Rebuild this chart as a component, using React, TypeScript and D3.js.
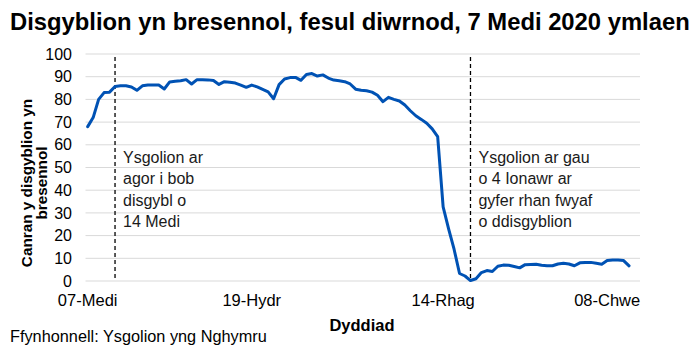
import React from "react";
import * as d3 from "d3";

const title = "Disgyblion yn bresennol, fesul diwrnod, 7 Medi 2020 ymlaen";
const yAxisTitle = ["Canran y disgyblion yn", "bresennol"];
const xAxisTitle = "Dyddiad";
const source = "Ffynhonnell: Ysgolion yng Nghymru";

// school-day index -> attendance %
const attendance: number[] = [
  68, 72, 80, 83, 83.2, 85.7, 86, 86, 85.5, 84,
  86, 86.3, 86.3, 86.3, 84.6, 87.7, 88, 88.2, 88.7, 86.8,
  88.7, 88.7, 88.6, 88.3, 86.6, 87.8, 87.6, 87.2, 86.3, 85.3,
  86.3, 85.5, 84.4, 83.3, 80.3, 86.5, 89, 89.6, 89.7, 88.4,
  91, 91.4, 90.3, 90.8, 89.4, 88.5, 88.2, 87.8, 86.8, 84.5,
  84, 83.8, 83.2, 81.8, 79, 80.9, 80, 79.3, 77.5, 75,
  72.8, 71.2, 69.5, 67, 63.6, 32.7, 23, 14, 3.3, 2.2,
  0.2, 1, 3.7, 4.6, 4.2, 6.5, 7, 6.9, 6.4, 5.8,
  7.2, 7.3, 7.4, 6.9, 6.7, 6.7, 7.5, 7.8, 7.5, 6.7,
  8, 8.2, 8.2, 7.8, 7.4, 9, 9.3, 9.3, 9, 6.7,
];

const tickIndices = [0, 30, 65, 95];
const tickLabels = ["07-Medi", "19-Hydr", "14-Rhag", "08-Chwe"];
const yTicks = [0, 10, 20, 30, 40, 50, 60, 70, 80, 90, 100];

const eventIndices = [5, 70];
const eventTexts = [
  ["Ysgolion ar", "agor i bob", "disgybl o", "14 Medi"],
  ["Ysgolion ar gau", "o 4 Ionawr ar", "gyfer rhan fwyaf", "o ddisgyblion"],
];

const FONT = "'Liberation Sans', Arial, sans-serif";

export default function App() {
  const W = 698;
  const H = 360;
  const x = d3.scaleLinear().domain([-0.4, 101]).range([85.5, 640]);
  const y = d3.scaleLinear().domain([0, 100]).range([281, 54]);
  const line = d3
    .line<number>()
    .x((_, i) => x(i))
    .y((d) => y(d))
    .curve(d3.curveLinear);

  return (
    <svg
      width={W}
      height={H}
      style={{ position: "absolute", left: 0, top: 0, background: "#fff" }}
      fontFamily={FONT}
    >
      <rect x={0} y={0} width={W} height={H} fill="#fff" />
      <text x={10} y={30} fontSize={23.8} fontWeight="bold" fill="#000">
        {title}
      </text>
      {yTicks.map((t) => (
        <g key={t}>
          <line x1={x.range()[0]} x2={x.range()[1]} y1={y(t)} y2={y(t)} stroke="#d9d9d9" strokeWidth={1} />
          <text x={72} y={y(t)} dy="0.35em" textAnchor="end" fontSize={16} fill="#000">
            {t}
          </text>
        </g>
      ))}
      {tickIndices.map((ti, k) => (
        <text key={ti} x={x(ti)} y={306} textAnchor="middle" fontSize={16.5} fill="#000">
          {tickLabels[k]}
        </text>
      ))}
      {eventIndices.map((ei, k) => (
        <g key={ei}>
          <line
            x1={x(ei)}
            x2={x(ei)}
            y1={57}
            y2={280}
            stroke="#000"
            strokeWidth={1.3}
            strokeDasharray="4,3"
          />
          {eventTexts[k].map((s, j) => (
            <text key={j} x={x(ei) + 8} y={162.5 + j * 21.5} fontSize={16} fill="#1a1a1a">
              {s}
            </text>
          ))}
        </g>
      ))}
      <path d={line(attendance) || ""} fill="none" stroke="#0052b4" strokeWidth={3} strokeLinejoin="round" strokeLinecap="round" />
      <g transform={`translate(37,${183}) rotate(-90)`}>
        {yAxisTitle.map((s, j) => (
          <text key={j} x={0} y={j * 15} textAnchor="middle" fontSize={15.3} fontWeight="bold" fill="#000" dy="-0.3em">
            {s}
          </text>
        ))}
      </g>
      <text x={362} y={331} textAnchor="middle" fontSize={16.5} fontWeight="bold" fill="#000">
        {xAxisTitle}
      </text>
      <text x={10} y={342} fontSize={16.3} fill="#000">
        {source}
      </text>
    </svg>
  );
}
